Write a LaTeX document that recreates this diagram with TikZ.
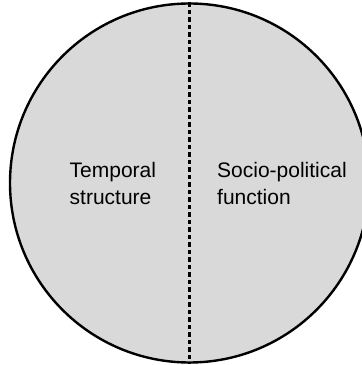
\documentclass[tikz,border=0pt]{standalone}
\usepackage{fontspec}
\setmainfont{Liberation Sans}
\usepackage{xcolor}
\definecolor{discgray}{RGB}{217,217,217}

\begin{document}
\begin{tikzpicture}[
        x=1pt,y=1pt,
        %Environment config
        font=\fontsize{21}{27}\selectfont,
        %Environment styles
        DiscCfg/.style={
            circle,
            draw,
            line width=2.4pt,
            fill=discgray,
            inner sep=0pt,
            minimum size=359pt
        },
        LabelCfg/.style={
            align=left,
            anchor=west,
            inner sep=0pt
        }
    ]
    \useasboundingbox (0,0) rectangle (362,365);
    \path
        (189.5,182) node[DiscCfg](DISC){}
        (69.5,182) node[LabelCfg](TEMP){Temporal\\structure}
        (217,182) node[LabelCfg](SOCIO){Socio-political\\function};

    \draw[line width=2.2pt,dash pattern=on 4.5pt off 3pt]
        (DISC.north) -- (DISC.south);
\end{tikzpicture}
\end{document}
